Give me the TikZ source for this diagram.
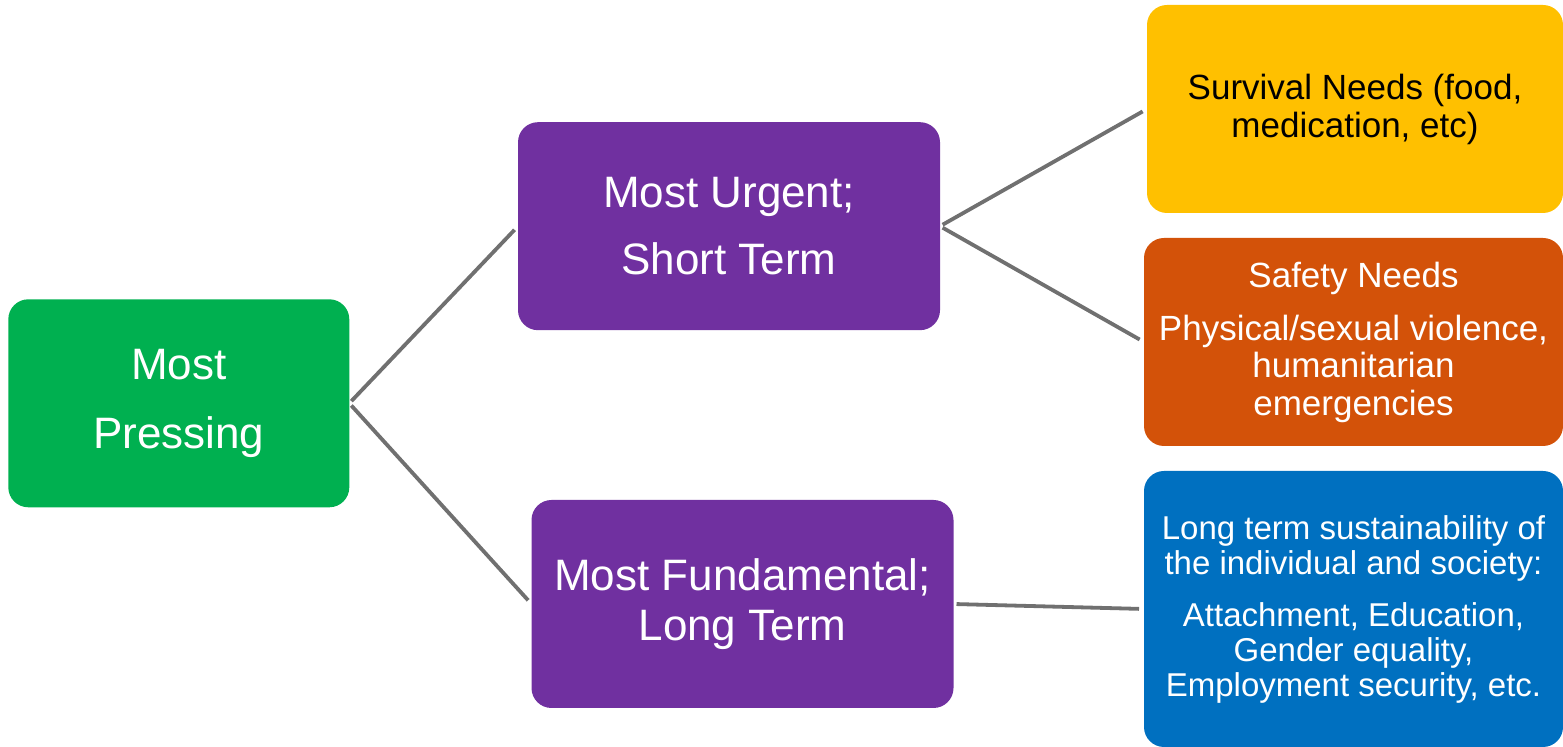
\documentclass[tikz,border=0pt]{standalone}
\usepackage{fontspec}
\setmainfont{Liberation Sans}
\definecolor{cgreen}{HTML}{00B050}
\definecolor{cpurple}{HTML}{7030A0}
\definecolor{cyellow}{HTML}{FFC000}
\definecolor{corange}{HTML}{D35209}
\definecolor{cblue}{HTML}{0070C0}
\definecolor{cline}{HTML}{707070}
\tikzset{
  box/.style={rectangle, rounded corners=10pt, inner sep=0pt, outer sep=0pt, align=center, text=white},
  conn/.style={draw=cline, line width=1.9pt, shorten <=1.5pt, shorten >=2.5pt}
}
\begin{document}
\begin{tikzpicture}[x=0.5pt,y=-0.5pt]
\useasboundingbox (0,0) rectangle (1563,747);
\node[box, fill=cgreen, minimum width=170.5pt, minimum height=104pt, font=\fontsize{22}{34.5}\selectfont] (g) at (178.8,403.3) {Most\\Pressing};
\node[box, fill=cpurple, minimum width=211pt, minimum height=104pt, font=\fontsize{22}{33.3}\selectfont] (p1) at (729,226.2) {Most Urgent;\\Short Term};
\node[box, fill=cpurple, minimum width=211pt, minimum height=104pt, font=\fontsize{22}{25}\selectfont] (p2) at (742.5,604) {Most Fundamental;\\Long Term};
\node[box, fill=cyellow, text=black, minimum width=208pt, minimum height=104pt, font=\fontsize{17.5}{19}\selectfont] (y) at (1355,109) {Survival Needs (food,\\medication, etc)};
\node[box, fill=corange, minimum width=209.5pt, minimum height=104pt, font=\fontsize{17.5}{18.75}\selectfont] (o) at (1353.5,342) {Safety Needs\\[7.75pt]Physical/sexual violence,\\humanitarian\\emergencies};
\node[box, fill=cblue, minimum width=209.5pt, minimum height=138pt, font=\fontsize{16.5}{17.5}\selectfont] (b) at (1353.5,609) {Long term sustainability of\\the individual and society:\\[8.5pt]Attachment, Education,\\Gender equality,\\Employment security, etc.};
\draw[conn] (g.east) -- (p1.west);
\draw[conn] (g.east) -- (p2.west);
\draw[conn] (p1.east) -- (y.west);
\draw[conn] (p1.east) -- (o.west);
\draw[conn] (p2.east) -- (b.west);
\end{tikzpicture}
\end{document}
